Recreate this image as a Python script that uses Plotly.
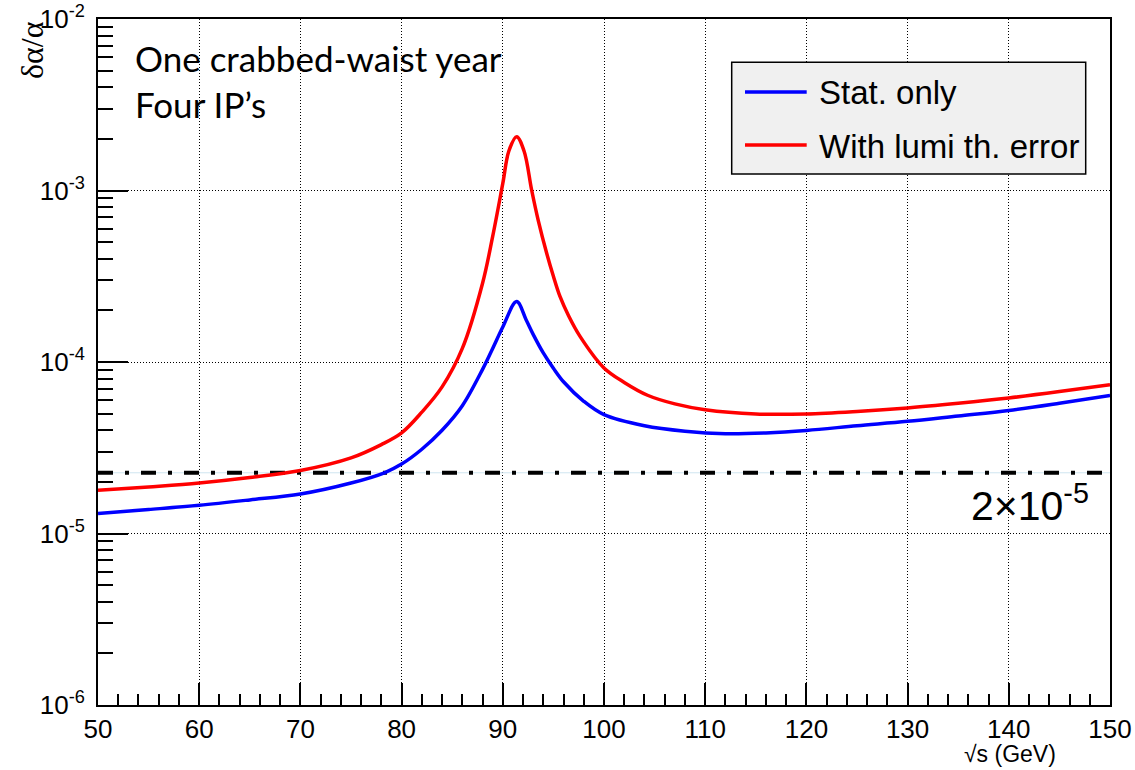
import plotly.graph_objects as go

# ---------------- data ----------------
series_names = ["Stat. only", "With lumi th. error"]

stat_x = [50, 55, 60, 65, 70, 75, 78.3, 80, 82, 84, 86, 88, 89, 90, 91.37,
          92.3, 93, 94, 95, 96, 98, 100, 104, 108, 112, 116,
          120, 125, 130, 135, 140, 145, 150]
stat_y = [1.31e-5, 1.38e-5, 1.46e-5, 1.57e-5, 1.70e-5, 1.97e-5, 2.26e-5, 2.54e-5, 3.1e-5,
          4.0e-5, 5.56e-5, 9.06e-5, 1.2e-4, 1.6e-4, 2.25e-4,
          1.764e-4, 1.45e-4, 1.13e-4, 9.2e-5, 7.67e-5, 5.9e-5, 4.93e-5, 4.25e-5, 3.95e-5,
          3.82e-5, 3.86e-5, 3.99e-5, 4.25e-5, 4.51e-5, 4.85e-5, 5.22e-5, 5.75e-5, 6.39e-5]

lumi_x = [50, 55, 60, 65, 70, 75, 78, 80, 82, 84, 86, 88, 89, 90, 90.6, 91.37,
          92.1, 92.86, 93.5, 94.33, 95, 95.65, 96.5, 97.63, 100, 102, 104.3, 107,
          110, 115, 120, 125, 130, 135, 140, 145, 150]
lumi_y = [1.785e-5, 1.87e-5, 1.97e-5, 2.12e-5, 2.33e-5, 2.76e-5, 3.30e-5, 3.86e-5, 5.1e-5,
          7.16e-5, 1.2e-4, 2.88e-4, 5.4e-4, 1.1e-3, 1.7e-3, 2.06e-3,
          1.7e-3, 1.0e-3, 6.7e-4, 4.32e-4, 3.16e-4, 2.41e-4, 1.86e-4, 1.41e-4,
          9.23e-5, 7.6e-5, 6.4e-5, 5.7e-5, 5.27e-5, 4.98e-5, 4.98e-5, 5.15e-5, 5.40e-5,
          5.75e-5, 6.17e-5, 6.72e-5, 7.38e-5]

target_x = [50, 150]
target_y = [2.26e-5, 2.26e-5]
target_label = "2×10<sup>-5</sup>"

x_major = [50, 60, 70, 80, 90, 100, 110, 120, 130, 140, 150]
x_minor = [v for v in range(52, 150, 2) if v % 10 != 0]
y_major = [1e-6, 1e-5, 1e-4, 1e-3, 1e-2]
y_major_text = ["10<sup>-6</sup>", "10<sup>-5</sup>", "10<sup>-4</sup>",
                "10<sup>-3</sup>", "10<sup>-2</sup>"]
y_minor = [m * d for d in [1e-6, 1e-5, 1e-4, 1e-3] for m in range(2, 10)]

info_text = "One crabbed-waist year<br>Four IP’s"
x_title = "√s (GeV)"
y_title = "δα/α"

# ---------------- layout geometry ----------------
W, H = 1135, 770
L, R, T, B = 98, 25, 19, 65
PW, PH = W - L - R, H - T - B


def px(xp):
    return (xp - L) / PW


def py(yp):
    return 1 - (yp - T) / PH


fig = go.Figure()

# faint guide under the dash-dot reference line
fig.add_trace(go.Scatter(x=target_x, y=target_y, mode="lines",
                         line=dict(color="#cfe5f1", width=1),
                         showlegend=False, hoverinfo="skip"))
fig.add_trace(go.Scatter(x=target_x, y=target_y, mode="lines",
                         line=dict(color="black", width=4, dash="15px,12px,4px,12px"),
                         showlegend=False, hoverinfo="skip"))

fig.add_trace(go.Scatter(x=stat_x, y=stat_y, mode="lines", name=series_names[0],
                         line=dict(color="#0000ff", width=3.5, shape="spline", smoothing=1.0),
                         showlegend=False))
fig.add_trace(go.Scatter(x=lumi_x, y=lumi_y, mode="lines", name=series_names[1],
                         line=dict(color="#ff0000", width=3.5, shape="spline", smoothing=1.0),
                         showlegend=False))

tick_font = dict(family="Liberation Sans, Arial, sans-serif", size=26, color="black")

fig.update_xaxes(
    range=[50, 150], tickmode="array", tickvals=x_major, ticktext=[str(v) for v in x_major],
    ticks="inside", ticklen=22, tickwidth=2, tickcolor="black",
    showline=True, linewidth=2, linecolor="black", mirror=True,
    showgrid=True, gridcolor="black", gridwidth=1, griddash="1px,2px",
    minor=dict(tickmode="array", tickvals=x_minor, ticks="inside", ticklen=11,
               tickwidth=2, tickcolor="black", showgrid=False),
    tickfont=tick_font, zeroline=False, automargin=False,
)
fig.update_yaxes(
    type="log", range=[-6, -2], tickmode="array", tickvals=y_major, ticktext=y_major_text,
    ticks="inside", ticklen=30, tickwidth=2, tickcolor="black",
    showline=True, linewidth=2, linecolor="black", mirror=True,
    showgrid=True, gridcolor="black", gridwidth=1, griddash="1px,2px",
    minor=dict(tickmode="array", tickvals=y_minor, ticks="inside", ticklen=15,
               tickwidth=2, tickcolor="black", showgrid=False),
    tickfont=tick_font, zeroline=False, ticklabelstandoff=6, automargin=False,
)

shapes = [
    dict(type="rect", xref="paper", yref="paper", x0=px(731.7), x1=px(1085.7),
         y0=py(174), y1=py(62.3), fillcolor="#f0f0f0", line=dict(color="black", width=1.5),
         layer="above"),
    dict(type="line", xref="paper", yref="paper", x0=px(745), x1=px(806.7),
         y0=py(92), y1=py(92), line=dict(color="#0000ff", width=3.5), layer="above"),
    dict(type="line", xref="paper", yref="paper", x0=px(745), x1=px(806.7),
         y0=py(145), y1=py(145), line=dict(color="#ff0000", width=3.5), layer="above"),
]

leg_font = dict(family="Liberation Sans, Arial, sans-serif", size=33, color="black")
annotations = [
    dict(text=series_names[0], xref="paper", yref="paper", x=px(817), y=py(93),
         xanchor="left", yanchor="middle", showarrow=False, font=leg_font),
    dict(text=series_names[1], xref="paper", yref="paper", x=px(817), y=py(146),
         xanchor="left", yanchor="middle", showarrow=False, font=leg_font),
    dict(text=target_label, xref="paper", yref="paper", x=px(1091), y=py(503),
         xanchor="right", yanchor="middle", showarrow=False,
         font=dict(family="Liberation Sans, Arial, sans-serif", size=41, color="black")),
    dict(text=info_text, xref="paper", yref="paper", x=px(133), y=py(35),
         xanchor="left", yanchor="top", align="left", showarrow=False,
         font=dict(family="Lato, sans-serif", size=35, color="black")),
    dict(text=x_title, xref="paper", yref="paper", x=px(1058), y=py(769),
         xanchor="right", yanchor="bottom", showarrow=False,
         font=dict(family="Liberation Sans, Arial, sans-serif", size=23, color="black")),
    dict(text=y_title, xref="paper", yref="paper", x=px(12), y=py(19),
         xanchor="left", yanchor="top", textangle=-90, showarrow=False,
         font=dict(family="Liberation Serif, serif", size=32, color="black")),
]

fig.update_layout(
    width=W, height=H, margin=dict(l=L, r=R, t=T, b=B),
    paper_bgcolor="white", plot_bgcolor="white",
    shapes=shapes, annotations=annotations, showlegend=False,
)

fig.write_html("out.html")
